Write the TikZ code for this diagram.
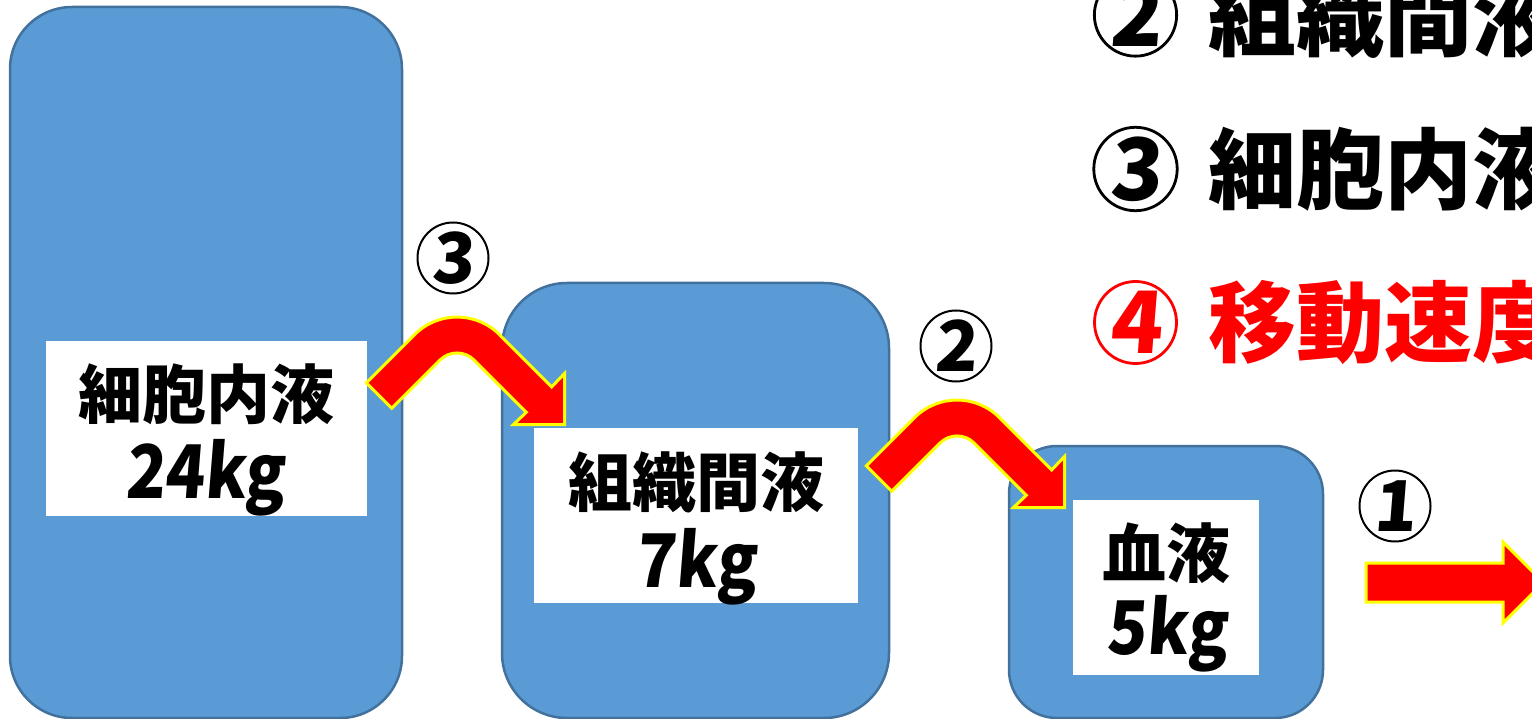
\documentclass[tikz,border=0pt]{standalone}
\usepackage{fontspec}
\newfontfamily\cjk{Noto Sans CJK JP}
\newfontfamily\cjksl{Noto Sans CJK JP}[FakeSlant=0.08,FakeStretch=0.88]
\newfontfamily\cjkdig{Noto Sans CJK JP}[FakeSlant=0.08]
\definecolor{boxblue}{HTML}{5B9BD5}
\definecolor{boxline}{HTML}{41719C}
\definecolor{arrowred}{HTML}{FF0000}
\definecolor{arrowyellow}{HTML}{FFFF00}
\begin{document}
\begin{tikzpicture}[x=1pt,y=-1pt,
  fluidbox/.style={draw=boxline, line width=2.5pt, fill=boxblue, inner sep=0pt},
  labelbox/.style={fill=white, inner sep=0pt},
  nametext/.style={inner sep=0pt, font=\cjk\bfseries\fontsize{64}{70}\selectfont},
  masstext/.style={inner sep=0pt, anchor=base, font=\cjksl\bfseries\fontsize{74}{78}\selectfont},
  listtext/.style={inner sep=0pt, anchor=west, font=\cjk\bfseries\fontsize{88}{94}\selectfont},
  smallnum/.style={circle, draw=black, line width=2pt, minimum size=71pt, inner sep=0pt,
    font=\cjkdig\bfseries\fontsize{70}{72}\selectfont},
  bignum/.style={circle, draw=black, line width=2.8pt, minimum size=82pt, inner sep=0pt,
    font=\cjkdig\bfseries\fontsize{86}{90}\selectfont},
  arrowshape/.style={fill=arrowred, draw=arrowyellow, line width=3pt, line join=miter},
  curvearrow/.pic={
    \path[arrowshape] (366.3,382.9) -- (414.6,334.6)
      arc[start angle=225, end angle=315, radius=60]
      -- (551.7,386.9) -- (564.5,373.5) -- (564.5,424.5) -- (513.5,424.5)
      -- (526.3,412.3) -- (474,360)
      arc[start angle=315, end angle=225, radius=24]
      -- (391.7,408.3) -- cycle;
  }
]
\clip (0,0) rectangle (1532,719);
\fill[white] (0,0) rectangle (1532,719);

% fluid compartments
\node[fluidbox, rounded corners=62pt, minimum width=392pt, minimum height=711pt] (icf) at (206,362.5) {};
\node[fluidbox, rounded corners=65pt, minimum width=387pt, minimum height=435pt] (isf) at (695.5,500.5) {};
\node[fluidbox, rounded corners=48pt, minimum width=314pt, minimum height=272pt] (blood) at (1166,582) {};

% white labels
\node[labelbox, minimum width=321pt, minimum height=175pt] (icflabel) at (206.5,428.5) {};
\node[labelbox, minimum width=324pt, minimum height=175pt] (isflabel) at (696,515.5) {};
\node[labelbox, minimum width=186pt, minimum height=175pt] (bloodlabel) at (1166,587.5) {};

\node[nametext] (icfname) at (206,394) {細胞内液};
\node[masstext] (icfmass) at (205,498) {24kg};
\node[nametext] (isfname) at (696,482) {組織間液};
\node[masstext] (isfmass) at (696,587) {7kg};
\node[nametext] (bloodname) at (1166,553) {血液};
\node[masstext] (bloodmass) at (1167,654) {5kg};

% arrows
\pic at (0,0) {curvearrow};
\pic at (500,83) {curvearrow};
\path[arrowshape] (1366,563) -- (1503,563) -- (1503,542) -- (1543.5,582.5)
  -- (1503,623) -- (1503,602) -- (1366,602) -- cycle;

% small circled numbers
\node[smallnum] (n3) at (453,258) {3};
\node[smallnum] (n2) at (956,346) {2};
\node[smallnum] (n1) at (1395,506) {1};

% list on the right
\node[bignum] (l2) at (1135.5,15) {2};
\node[listtext] (l2text) at (1208,16) {組織間液};
\node[bignum] (l3) at (1135.5,169) {3};
\node[listtext] (l3text) at (1208,169) {細胞内液};
\node[bignum, draw=arrowred, text=arrowred] (l4) at (1135.5,322.5) {4};
\node[listtext, text=arrowred] (l4text) at (1208,322.5) {移動速度};
\end{tikzpicture}
\end{document}
